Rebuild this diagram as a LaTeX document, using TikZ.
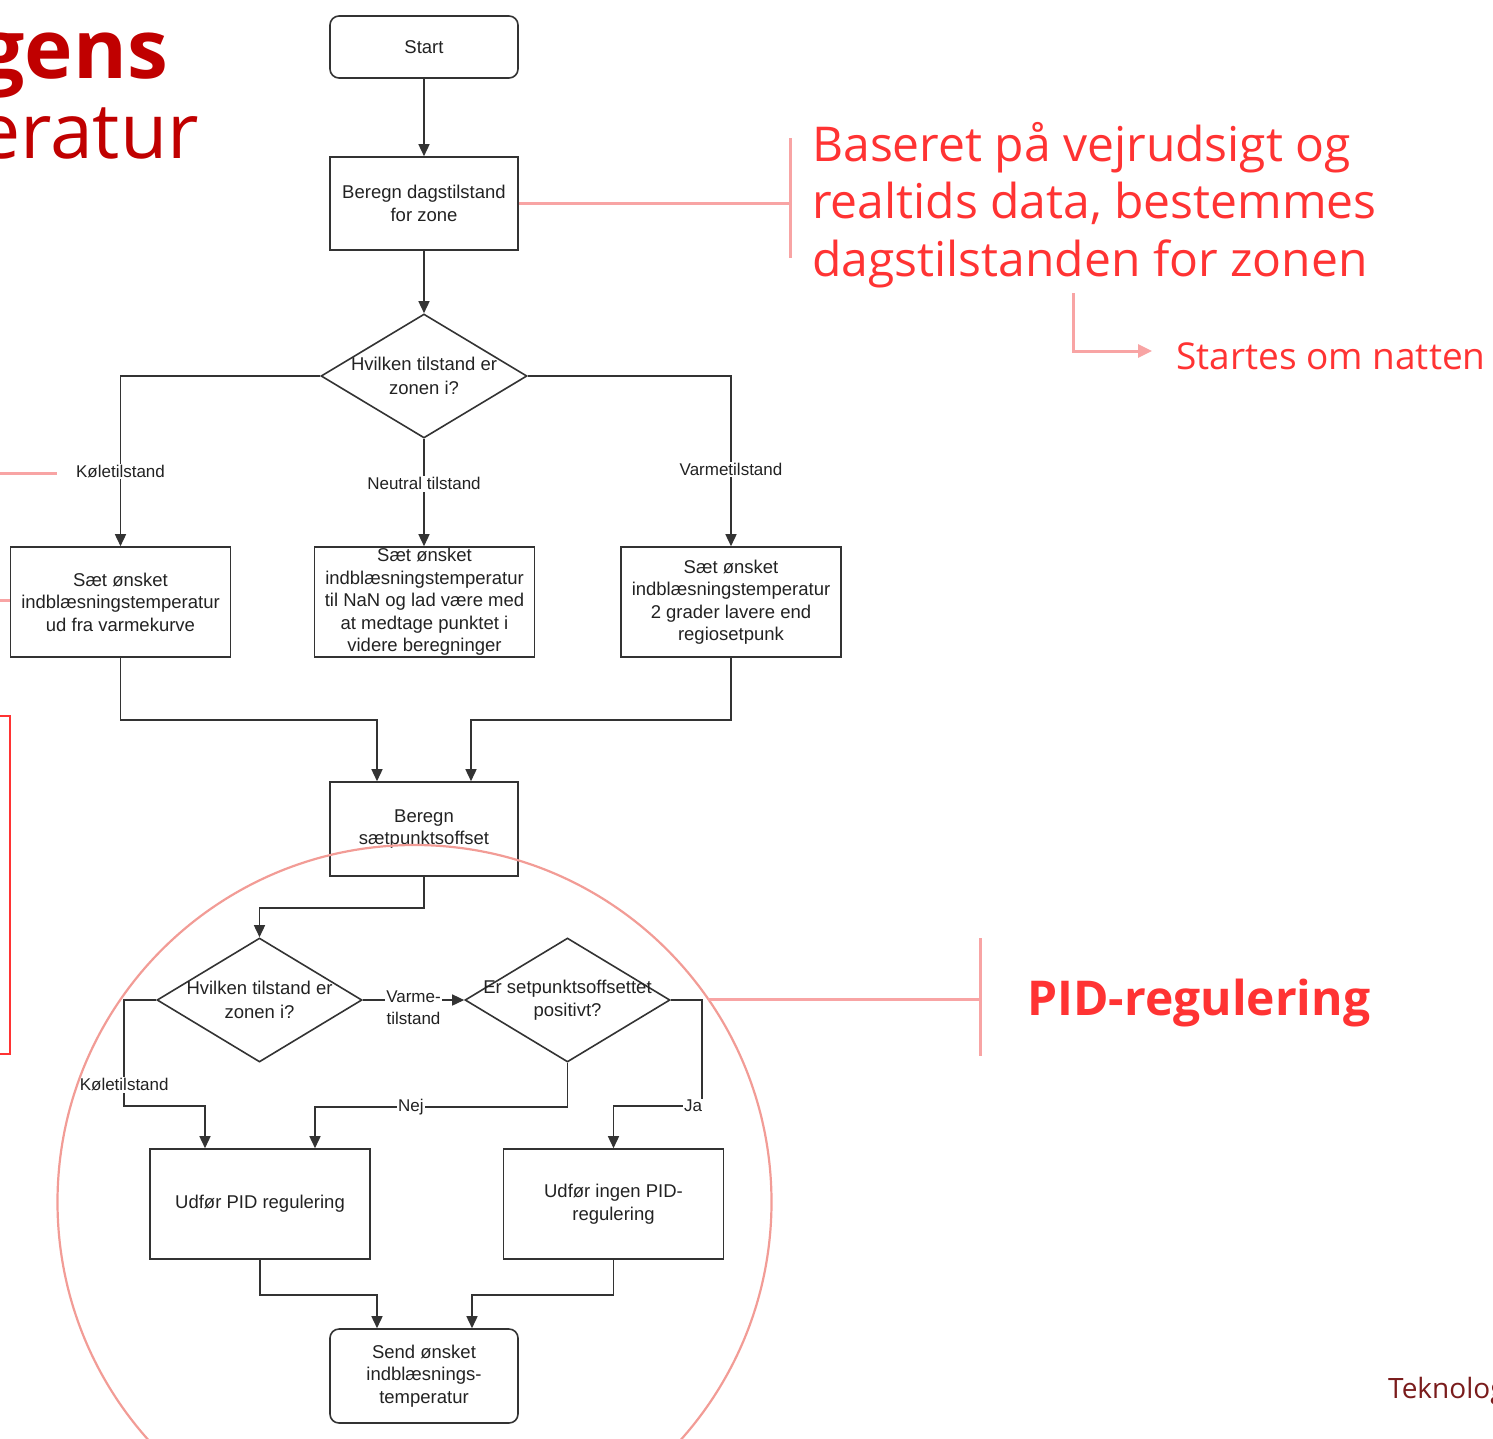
\documentclass[tikz,border=0pt]{standalone}
\usepackage{fontspec}
\setmainfont{Liberation Sans}
\newfontfamily\opensans{Open Sans}
\usetikzlibrary{arrows.meta,shapes.geometric,calc}
\definecolor{flowline}{HTML}{333333}
\definecolor{flowtext}{HTML}{222222}
\definecolor{titlered}{HTML}{C00000}
\definecolor{hired}{HTML}{FF3333}
\definecolor{pinkline}{HTML}{F8A4A4}
\definecolor{pinkcirc}{HTML}{F29C96}
\definecolor{darkred}{HTML}{7A1C1C}
\begin{document}
\begin{tikzpicture}[x=1pt,y=-1pt,
  box/.style={rectangle, draw=flowline, line width=1.6pt, minimum width=188pt,
    minimum height=94pt, align=center, inner sep=0pt, text=flowtext,
    font=\fontsize{18.5}{22.5}\selectfont},
  rbox/.style={box, rounded corners=9pt},
  bigbox/.style={box, minimum width=220pt, minimum height=110pt},
  dia/.style={diamond, draw=flowline, line width=1.6pt, minimum width=206pt,
    minimum height=124pt, inner sep=0pt},
  dtext/.style={align=center, inner sep=0pt, text=flowtext,
    font=\fontsize{18.5}{23.5}\selectfont},
  conn/.style={draw=flowline, line width=1.5pt, -{Triangle[width=11pt,length=12pt]}},
  lbl/.style={fill=white, inner sep=1.5pt, text=flowtext, align=center,
    font=\fontsize{17}{22}\selectfont},
  pk/.style={draw=pinkline, line width=3pt},
  redtxt/.style={inner sep=0pt, text=hired, align=left, font=\opensans\fontsize{48}{57.5}\selectfont}
]
\useasboundingbox (0,0) rectangle (1493,1438);
\clip (0,0) rectangle (1493,1438);

% title fragments
\node[anchor=base east, inner sep=0pt, text=titlered,
  font=\opensans\bfseries\fontsize{82}{90}\selectfont] (tgens) at (168,78) {gens};
\node[anchor=base east, inner sep=0pt, text=titlered,
  font=\opensans\fontsize{77}{90}\selectfont] (teratur) at (199,158) {eratur};

% flowchart nodes
\node[rbox, minimum height=62pt] (start) at (424,47) {Start};
\node[box, minimum height=93pt] (dag) at (424,203.5) {Beregn dagstilstand\\for zone};
\node[dia, label={[dtext]center:{Hvilken tilstand er\\zonen i?}}] (d1) at (424,376) {};
\node[bigbox] (kol) at (120.5,602) {Sæt ønsket\\indblæsningstemperatur\\ud fra varmekurve};
\node[bigbox] (neu) at (424.5,602) {Sæt ønsket\\indblæsningstemperatur\\til NaN og lad være med\\at medtage punktet i\\videre beregninger};
\node[bigbox] (var) at (731,602) {Sæt ønsket\\indblæsningstemperatur\\2 grader lavere end\\regiosetpunk};
\node[box] (off) at (424,829) {Beregn\\sætpunktsoffset};
\node[dia, minimum width=205pt, label={[dtext]center:{Hvilken tilstand er\\zonen i?}}] (d2) at (259.5,1000) {};
\node[dia, minimum width=205pt, label={[dtext]center:{Er setpunktsoffsettet\\positivt?}}] (d3) at (567.5,1000) {};
\node[bigbox] (pid) at (260,1204) {Udfør PID regulering};
\node[bigbox] (nopid) at (613.5,1204) {Udfør ingen PID-\\regulering};
\node[rbox] (send) at (424,1376) {Send ønsket\\indblæsnings-\\temperatur};

% connectors
\draw[conn] (start) -- (dag);
\draw[conn] (dag) -- (d1);
\draw[conn] (d1.west) -| node[lbl, pos=0.78] {Køletilstand} (kol.north);
\draw[conn] (d1.south) -- node[lbl, pos=0.42] {Neutral tilstand} (d1.south |- neu.north);
\draw[conn] (d1.east) -| node[lbl, pos=0.775] {Varmetilstand} (var.north);
\draw[conn] (kol.south) -- ++(0,62) -| ([xshift=-47pt]off.north);
\draw[conn] (var.south) -- ++(0,62) -| ([xshift=47pt]off.north);
\draw[conn] (off.south) -- ++(0,31) -| (d2.north);
\draw[conn] (d2.east) -- node[lbl, yshift=-8pt] {Varme-\\tilstand} (d3.west);
\draw[conn] (d2.west) -- ++(-32,0) -- node[lbl, pos=0.8] {Køletilstand} ++(0,106) -| ([xshift=-55pt]pid.north);
\draw[conn] (d3.south) -- ++(0,44) -| node[lbl, pos=0.31] {Nej} ([xshift=55pt]pid.north);
\draw[conn] (d3.east) -- ++(31,0) -- ++(0,106) -| node[lbl, pos=0.05] {Ja} (nopid.north);
\draw[conn] (pid.south) -- ++(0,35) -| ([xshift=-47pt]send.north);
\draw[conn] (nopid.south) -- ++(0,35) -| ([xshift=48pt]send.north);

% annotation: dagstilstand
\coordinate (brA) at (790,138);
\coordinate (brB) at (790,258);
\draw[pk] (brA) -- (brB);
\draw[pk] (dag.east) -- (dag.east -| brA);
\node[redtxt, anchor=base west] (basert) at (812,276) {Baseret på vejrudsigt og\\realtids data, bestemmes\\dagstilstanden for zonen};
\coordinate (sA) at (1073,293);
\coordinate (sB) at (1152,351);
\draw[pk, -{Triangle[width=13pt,length=14pt]}] (sA) |- (sB);
\node[anchor=base west, inner sep=0pt, text=hired, font=\opensans\fontsize{37}{44}\selectfont] (startes) at (1176,369) {Startes om natten};

% left side fragments
\coordinate (lA) at (0,473);
\coordinate (lB) at (57,473);
\draw[pk] (lA) -- (lB);
\coordinate (lC) at (0,600);
\draw[pk] (lC) -- (lC -| kol.west);
\coordinate (rA) at (0,716);
\coordinate (rB) at (10,716);
\coordinate (rC) at (10,1054);
\coordinate (rD) at (0,1054);
\draw[draw=hired, line width=2.2pt] (rA) -- (rB) -- (rC) -- (rD);

% PID circle and bracket
\coordinate (cc) at (414.5,1202);
\draw[draw=pinkcirc, line width=2.2pt] (cc) circle[radius=357];
\coordinate (pA) at (980,938);
\coordinate (pB) at (980,1056);
\coordinate (pC) at (708,999);
\draw[pk] (pA) -- (pB);
\draw[pk] (pC) -- (pC -| pA);
\node[anchor=base west, inner sep=0pt, text=hired, font=\opensans\bfseries\fontsize{48}{56}\selectfont] (pidl) at (1027,1015) {PID-regulering};

% footer
\node[anchor=base west, inner sep=0pt, text=darkred, font=\opensans\fontsize{28}{32}\selectfont] (tek) at (1388,1398) {Teknolog};
\end{tikzpicture}
\end{document}
